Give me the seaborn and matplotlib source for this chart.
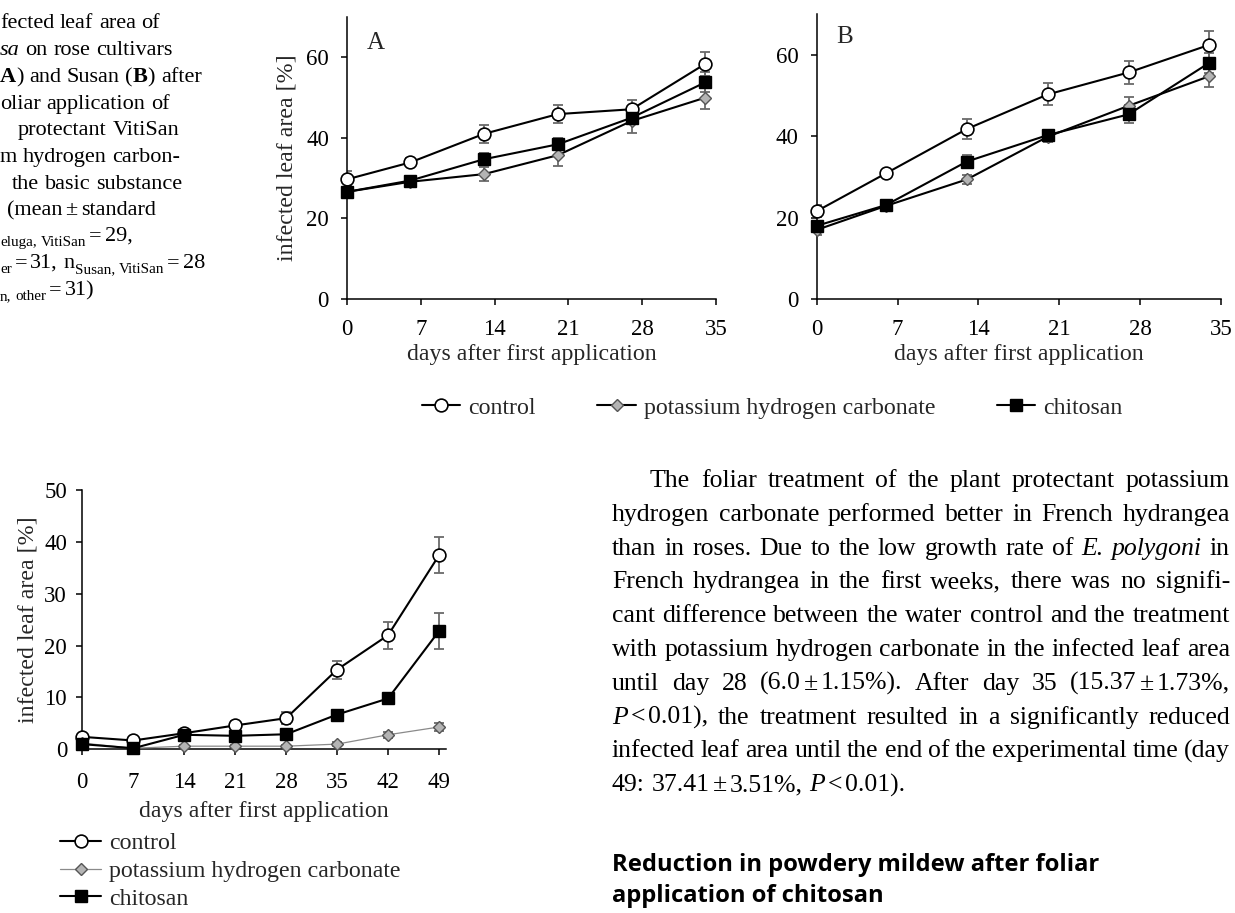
import numpy as np
import pandas as pd
import matplotlib
matplotlib.use("Agg")
import matplotlib.pyplot as plt
import seaborn as sns
from matplotlib.lines import Line2D

# ---------------- data ----------------
series_names = ["control", "potassium hydrogen carbonate", "chitosan"]

days_ab = [0, 6, 13, 20, 27, 34]
a_control = [29.7, 33.9, 41.0, 45.9, 47.1, 58.4]
a_khco3 = [26.6, 29.1, 31.0, 35.7, 44.2, 50.0]
a_chitosan = [26.6, 29.4, 34.7, 38.4, 45.0, 53.8]
a_control_err = [2.0, 1.0, 2.2, 2.3, 2.3, 3.0]
a_khco3_err = [1.5, 1.2, 1.7, 2.8, 3.0, 2.9]
a_chitosan_err = [1.5, 1.2, 1.5, 1.5, 1.5, 2.5]

b_control = [21.6, 30.9, 41.8, 50.3, 55.7, 62.5]
b_khco3 = [17.0, 22.9, 29.4, 39.9, 47.5, 54.8]
b_chitosan = [18.0, 23.1, 33.8, 40.3, 45.4, 58.1]
b_control_err = [1.5, 0.8, 2.4, 2.7, 2.8, 3.5]
b_khco3_err = [1.2, 1.0, 1.2, 1.2, 2.1, 2.6]
b_chitosan_err = [1.2, 1.0, 1.7, 1.3, 2.2, 2.5]

days_c = [0, 7, 14, 21, 28, 35, 42, 49]
c_control = [2.4, 1.7, 3.1, 4.6, 6.0, 15.37, 22.0, 37.41]
c_khco3 = [1.2, 0.2, 0.6, 0.6, 0.6, 1.0, 2.8, 4.3]
c_chitosan = [1.0, 0.2, 2.8, 2.6, 2.9, 6.7, 9.8, 22.8]
c_control_err = [0.6, 0.4, 0.6, 0.8, 1.15, 1.73, 2.6, 3.51]
c_khco3_err = [0.3, 0.2, 0.3, 0.3, 0.3, 0.4, 0.6, 0.7]
c_chitosan_err = [0.5, 0.3, 0.5, 0.5, 0.6, 0.8, 1.0, 3.4]

ticks_ab_x = [0, 7, 14, 21, 28, 35]
ticks_ab_y = [0, 20, 40, 60]
ticks_c_x = [0, 7, 14, 21, 28, 35, 42, 49]
ticks_c_y = [0, 10, 20, 30, 40, 50]

xlabel = "days after first application"
ylabel = "infected leaf area [%]"

caption_lines = [
    "fected leaf area of",
    "*sa* on rose cultivars",
    "#A#) and Susan (#B#) after",
    "oliar application of",
    "protectant VitiSan",
    "m hydrogen carbon-",
    "the basic substance",
    "(mean_±_standard",
    "~eluga, VitiSan~_=_29,",
    "~er~_=_31, n~Susan, VitiSan~_=_28",
    "~n, other~_=_31)",
]
paragraph_lines = [
    "The foliar treatment of the plant protectant potassium",
    "hydrogen carbonate performed better in French hydrangea",
    "than in roses. Due to the low growth rate of *E. polygoni* in",
    "French hydrangea in the first weeks, there was no signifi-",
    "cant difference between the water control and the treatment",
    "with potassium hydrogen carbonate in the infected leaf area",
    "until day 28 (6.0_±_1.15%). After day 35 (15.37_±_1.73%,",
    "*P*_<_0.01), the treatment resulted in a significantly reduced",
    "infected leaf area until the end of the experimental time (day",
    "49: 37.41_±_3.51%, *P*_<_0.01).",
]
heading_lines = ["Reduction in powdery mildew after foliar", "application of chitosan"]

# ---------------- setup ----------------
sns.set_theme(style="ticks")
plt.rcParams['font.family'] = ['Liberation Serif', 'DejaVu Serif']
plt.rcParams['axes.facecolor'] = 'white'
plt.rcParams['figure.facecolor'] = 'white'

W, H = 1235, 913
fig = plt.figure(figsize=(W / 100, H / 100), dpi=100)
renderer = fig.canvas.get_renderer()


def fx(x):
    return x / W


def fy(y):
    return 1 - y / H


EB = '#6a6a6a'
GRAY_FILL = '#b4b4b4'


def style_for(kind, thin_khco3=False):
    if kind == "control":
        return dict(color='black', linewidth=1.5, marker='o', markersize=9.2,
                    markerfacecolor='white', markeredgecolor='black', markeredgewidth=1.2)
    if kind == "potassium hydrogen carbonate":
        return dict(color='#8a8a8a' if thin_khco3 else 'black', linewidth=0.9 if thin_khco3 else 1.5,
                    marker='D', markersize=6.6, markerfacecolor=GRAY_FILL,
                    markeredgecolor='#555555', markeredgewidth=1.0)
    return dict(color='black', linewidth=1.5, marker='s', markersize=8.2,
                markerfacecolor='black', markeredgecolor='black', markeredgewidth=1.0)


def draw_series(ax, x, y, err, kind, thin_khco3=False):
    ax.errorbar(x, y, yerr=err, fmt='none', ecolor=EB, elinewidth=1.3,
                capsize=3.3, capthick=1.3, zorder=2)
    sns.lineplot(x=x, y=y, ax=ax, errorbar=None, clip_on=False, zorder=3,
                 **style_for(kind, thin_khco3))


def style_ax(ax, xlim, ylim, xticks, yticks, xpad, ypad):
    ax.set_xlim(*xlim)
    ax.set_ylim(*ylim)
    ax.set_xticks(xticks)
    ax.set_yticks(yticks)
    sns.despine(ax=ax)
    for sp in ['left', 'bottom']:
        ax.spines[sp].set_linewidth(1.1)
        ax.spines[sp].set_color('black')
    ax.tick_params(axis='both', direction='out', length=4, width=1.1, color='black',
                   labelsize=16.5, labelcolor='black')
    ax.tick_params(axis='x', pad=xpad)
    ax.tick_params(axis='y', pad=ypad)
    ax.set_facecolor('none')


# ---------------- panel A ----------------
axA = fig.add_axes([fx(347), fy(299), (716 - 347) / W, (299 - 17) / H])
for kind, vals, err in zip(series_names, [a_control, a_khco3, a_chitosan],
                           [a_control_err, a_khco3_err, a_chitosan_err]):
    draw_series(axA, days_ab, vals, err, kind)
style_ax(axA, (0, 35), (0, 70), ticks_ab_x, ticks_ab_y, 10.5, 9)
axA.set_xlabel(xlabel, fontsize=17.2, labelpad=3)
axA.set_ylabel(ylabel, fontsize=17.2, labelpad=6)
axA.text(1.9, 62, "A", fontsize=18, va='baseline', ha='left')

# ---------------- panel B ----------------
axB = fig.add_axes([fx(816.7), fy(299), (1221 - 816.7) / W, (299 - 14.3) / H])
for kind, vals, err in zip(series_names, [b_control, b_khco3, b_chitosan],
                           [b_control_err, b_khco3_err, b_chitosan_err]):
    draw_series(axB, days_ab, vals, err, kind)
style_ax(axB, (0, 35), (0, 70), ticks_ab_x, ticks_ab_y, 10.5, 9)
axB.set_xlabel(xlabel, fontsize=17.2, labelpad=3)
axB.set_ylabel("")
axB.text(1.7, 63, "B", fontsize=18, va='baseline', ha='left')

# ---------------- panel C ----------------
axC = fig.add_axes([fx(82.3), fy(749.3), (446.3 - 82.3) / W, (749.3 - 490) / H])
for kind, vals, err in zip(series_names, [c_control, c_khco3, c_chitosan],
                           [c_control_err, c_khco3_err, c_chitosan_err]):
    draw_series(axC, days_c, vals, err, kind, thin_khco3=True)
style_ax(axC, (0, 50), (0, 50), ticks_c_x, ticks_c_y, 12, 7)
axC.set_xlabel(xlabel, fontsize=17.2, labelpad=6)
axC.set_ylabel(ylabel, fontsize=17.2, labelpad=4)

# ---------------- legends ----------------
top_handles = [Line2D([0], [0], **style_for(k)) for k in series_names]
fig.legend(top_handles, series_names, loc='center left', bbox_to_anchor=(fx(421.7), fy(408)),
           ncol=3, frameon=False, fontsize=17.2, borderpad=0, borderaxespad=0,
           handlelength=1.6, handletextpad=0.33, columnspacing=2.6)
c_handles = [Line2D([0], [0], **style_for(k, thin_khco3=True)) for k in series_names]
fig.legend(c_handles, series_names, loc='center left', bbox_to_anchor=(fx(60), fy(871)),
           ncol=1, frameon=False, fontsize=17.2, borderpad=0, borderaxespad=0,
           handlelength=1.72, handletextpad=0.33, labelspacing=0.26)


# ---------------- text helpers ----------------
def parse_line(s):
    words = []
    italic = bold = sub = False
    for tok in s.split(' '):
        segs = []
        cur = ''
        for ch in tok:
            if ch in '*#~_':
                if cur:
                    segs.append((cur, italic, bold, sub))
                    cur = ''
                if ch == '*':
                    italic = not italic
                elif ch == '#':
                    bold = not bold
                elif ch == '~':
                    sub = not sub
                else:
                    segs.append((None, italic, bold, sub))
            else:
                cur += ch
        if cur:
            segs.append((cur, italic, bold, sub))
        words.append(segs)
    return words


_space_cache = {}


def space_width(size, family):
    key = (size, str(family))
    if key not in _space_cache:
        t1 = fig.text(0, 0, "a a", fontsize=size, family=family)
        t2 = fig.text(0, 0, "aa", fontsize=size, family=family)
        w = t1.get_window_extent(renderer).width - t2.get_window_extent(renderer).width
        t1.remove()
        t2.remove()
        _space_cache[key] = w
    return _space_cache[key]


def draw_line(x0, base, s, size, x1=None, family=None, thin=3.0, weight='normal'):
    if family is None:
        family = ['Liberation Serif', 'DejaVu Serif']
    words = parse_line(s)
    placed = []
    widths = []
    for w in words:
        items = []
        total = 0.0
        for (txt, it, bd, sb) in w:
            fs = size * 0.68 if sb else size
            if txt is None:
                g = thin * (0.7 if sb else 1.0)
                items.append((None, g, sb))
                total += g
                continue
            t = fig.text(0, 0, txt, fontsize=fs, style='italic' if it else 'normal',
                         weight='bold' if (bd or weight == 'bold') else 'normal',
                         va='baseline', ha='left', family=family, color='black')
            wd = t.get_window_extent(renderer).width
            items.append((t, wd, sb))
            total += wd
        placed.append(items)
        widths.append(total)
    sp = space_width(size, family)
    n = len(placed)
    if x1 is not None and n > 1:
        gaps = [(x1 - x0 - sum(widths)) / (n - 1)] * (n - 1)
    else:
        gaps = []
        for i in range(n - 1):
            a = placed[i][-1][2] if placed[i] else False
            b = placed[i + 1][0][2] if placed[i + 1] else False
            gaps.append(sp * (0.68 if (a and b) else 1.0))
    x = x0
    for i, items in enumerate(placed):
        for (t, wd, sb) in items:
            if t is not None:
                dy = size * 1.389 * 0.22 if sb else 0
                t.set_position((fx(x), fy(base + dy)))
            x += wd
        if i < n - 1:
            x += gaps[i]


# caption (left, cut off)
cap_x = [0, 0, 0, 0, 18, 0, 12, 7, 0, 0, 0]
cap_base = [28, 55, 82, 109, 135, 162, 189, 215, 241, 268, 295]
for x0, b, s in zip(cap_x, cap_base, caption_lines):
    draw_line(x0, b, s, 16)

# paragraph (justified)
PL, PR = 612, 1230
for i, s in enumerate(paragraph_lines):
    base = 487 + i * 33.8
    x0 = PL + 38 if i == 0 else PL
    x1 = PR if i < len(paragraph_lines) - 1 else None
    draw_line(x0, base, s, 18.5, x1=x1)

# heading (bold sans) fitted to width
hfam = ['Open Sans', 'DejaVu Sans']
probe = fig.text(0, 0, heading_lines[0], fontsize=20, weight='bold', family=hfam)
pw = probe.get_window_extent(renderer).width
probe.remove()
hsize = 20 * 486 / pw
for i, s in enumerate(heading_lines):
    fig.text(fx(PL), fy(871 + i * 31), s, fontsize=hsize, weight='bold', family=hfam,
             va='baseline', ha='left', color='black')

fig.savefig("out.png", dpi=100, facecolor='white')
